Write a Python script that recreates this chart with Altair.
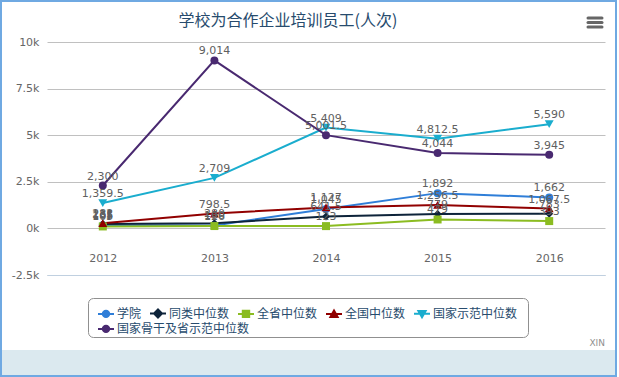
import altair as alt
import pandas as pd

years = ["2012", "2013", "2014", "2015", "2016"]
series_names = ["学院", "同类中位数", "全省中位数", "全国中位数", "国家示范中位数", "国家骨干及省示范中位数"]
colors = ["#2f7ed8", "#0d233a", "#8bbc21", "#910000", "#1aadce", "#492970"]
marker_shapes = ["circle", "diamond", "square", "triangle-up", "triangle-down", "circle"]

xueyuan = [165, 160, 1045, 1892, 1662]
tonglei = [235, 280, 641.5, 779, 783]
quansheng = [105, 126, 123, 479, 393]
quanguo = [282, 798.5, 1127, 1256.5, 1067.5]
guojia_shifan = [1359.5, 2709, 5409, 4812.5, 5590]
guojia_gugan = [2300, 9014, 5001.5, 4044, 3945]

all_values = [xueyuan, tonglei, quansheng, quanguo, guojia_shifan, guojia_gugan]

rows = []
for s_i, (name, vals) in enumerate(zip(series_names, all_values)):
    for y, v in zip(years, vals):
        rows.append({"series": name, "year": y, "value": v, "order": s_i})
df = pd.DataFrame(rows)

FONT = "Verdana, DejaVu Sans, Noto Sans CJK SC, sans-serif"
CJK = "Noto Sans CJK SC, DejaVu Sans, sans-serif"

# legend symbols: line segment with marker
legend_paths = [
    "M-1,0H1M0.4,0A0.4,0.4,0,1,1,-0.4,0A0.4,0.4,0,1,1,0.4,0Z",
    "M-1,0H1M0,-0.5L0.5,0L0,0.5L-0.5,0Z",
    "M-1,0H1M-0.4,-0.4H0.4V0.4H-0.4Z",
    "M-1,0H1M0,-0.45L0.45,0.35L-0.45,0.35Z",
    "M-1,0H1M0,0.45L0.45,-0.35L-0.45,-0.35Z",
    "M-1,0H1M0.4,0A0.4,0.4,0,1,1,-0.4,0A0.4,0.4,0,1,1,0.4,0Z",
]

x_enc = alt.X("year:O", sort=years, scale=alt.Scale(padding=0.5),
              axis=alt.Axis(title=None, labelAngle=0, grid=False, ticks=False,
                            domainColor="#C0D0E0", domainWidth=1,
                            labelColor="#666666", labelFontSize=11, labelFont=FONT,
                            labelPadding=-23))
y_enc = alt.Y("value:Q", scale=alt.Scale(domain=[-2500, 10000], nice=False),
              axis=alt.Axis(title=None, values=[-2500, 0, 2500, 5000, 7500, 10000],
                            labelExpr="datum.value/1000 + 'k'", grid=True,
                            gridColor="#C0C0C0", domain=False, ticks=False,
                            labelColor="#666666", labelFontSize=11, labelFont=FONT,
                            labelPadding=8))
color_scale = alt.Scale(domain=series_names, range=colors)
stroke_scale = alt.Scale(domain=series_names, range=colors)
shape_scale = alt.Scale(domain=series_names, range=legend_paths)


def make_leg(vals, ly):
    return alt.Legend(title=None, orient="none", legendX=50, legendY=ly, columns=5,
                      direction="horizontal", values=vals, symbolSize=256, symbolStrokeWidth=2,
                      symbolOpacity=1, labelFont=CJK, labelFontSize=12, labelColor="#274b6d",
                      padding=0, columnPadding=4, rowPadding=3, labelOffset=2)


base = alt.Chart(df)

# decorations
frame = alt.Chart(pd.DataFrame({"a": [0]})).mark_rect(filled=False, stroke="#6fa9e2", strokeWidth=2).encode(
    x=alt.value(-46), x2=alt.value(569), y=alt.value(-41), y2=alt.value(334))
band = alt.Chart(pd.DataFrame({"a": [0]})).mark_rect(fill="#dbe9ef").encode(
    x=alt.value(-45), x2=alt.value(568), y=alt.value(308), y2=alt.value(333))
legend_box = alt.Chart(pd.DataFrame({"a": [0]})).mark_rect(
    fill="white", stroke="#909090", strokeWidth=1, cornerRadius=5).encode(
    x=alt.value(41.5), x2=alt.value(481.5), y=alt.value(256.5), y2=alt.value(295.5))
title = alt.Chart(pd.DataFrame({"t": ["学校为合作企业培训员工(人次)"]})).mark_text(
    fontSize=16, color="#274b6d", font=CJK, align="center", baseline="middle").encode(
    x=alt.value(241), y=alt.value(-21), text="t:N")
menu = [alt.Chart(pd.DataFrame({"a": [0]})).mark_rule(color="#666666", strokeWidth=3, strokeCap="round").encode(
    x=alt.value(541), x2=alt.value(555), y=alt.value(yy)) for yy in [-24, -19.5, -15]]
credit = alt.Chart(pd.DataFrame({"t": ["XIN"]})).mark_text(
    fontSize=9, color="#909090", font=FONT, align="right", baseline="middle").encode(
    x=alt.value(558), y=alt.value(301), text="t:N")

lines = base.mark_line(strokeWidth=2).encode(
    x=x_enc, y=y_enc,
    color=alt.Color("series:N", scale=color_scale, legend=None),
    detail="series:N")

point_layers = []
for name, shp in zip(series_names, marker_shapes):
    point_layers.append(
        base.transform_filter(alt.datum.series == name).mark_point(
            filled=True, shape=shp, size=64 if shp in ("circle", "square", "diamond") else 80, opacity=1).encode(
            x=x_enc, y=y_enc,
            color=alt.Color("series:N", scale=color_scale, legend=None)))

labels = base.mark_text(dy=-9, fontSize=11, color="#606060", font=FONT, baseline="middle").encode(
    x=x_enc, y=y_enc, text=alt.Text("value:Q", format=",.1~f"))


def legend_layer(vals, ly):
    lg = make_leg(vals, ly)
    return alt.Chart(df).transform_filter("false").mark_point(filled=True, opacity=1).encode(
        x=x_enc, y=y_enc,
        color=alt.Color("series:N", scale=color_scale, legend=lg),
        stroke=alt.Stroke("series:N", scale=stroke_scale, legend=lg),
        shape=alt.Shape("series:N", scale=shape_scale, legend=lg))


leg1 = legend_layer(series_names[:5], 262.5)
leg2 = legend_layer(series_names[5:], 277.5)

chart = alt.layer(lines, *point_layers, labels, band, frame, legend_box, title, *menu, credit,
                  leg1, leg2).resolve_legend(
    color="independent", stroke="independent", shape="independent"
).properties(
    width=558, height=233,
    padding={"left": 47, "top": 42, "right": 14, "bottom": 102},
    autosize="none", background="white"
).configure_view(stroke=None)

chart.save("out.html", embed_options={"renderer": "svg", "actions": False})
